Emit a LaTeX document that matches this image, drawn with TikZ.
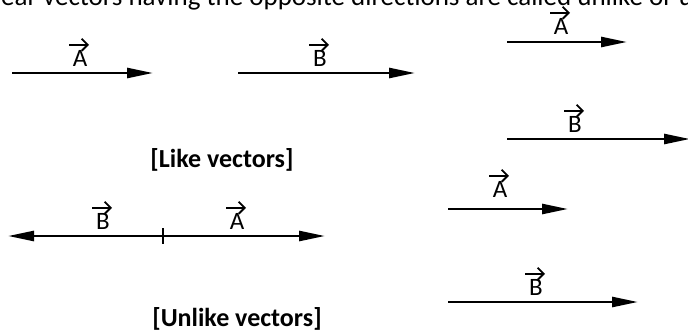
\documentclass[tikz,border=0pt]{standalone}
\usepackage{fontspec}
\setmainfont{Carlito}
\usetikzlibrary{arrows.meta}

\begin{document}
\begin{tikzpicture}[
    x=1pt, y=-1pt,
    vec/.style={line width=2.6pt, -{Triangle[length=26pt,width=10pt]}},
    vsign/.style={line width=1.9pt, -{Straight Barb[length=6pt,width=12pt]}},
    vlbl/.style={font=\fontsize{25}{30}\selectfont, inner sep=0pt, anchor=base,
      append after command={([xshift=-11pt,yshift=5pt]\tikzlastnode.north)
        edge[vsign] ([xshift=9pt,yshift=5pt]\tikzlastnode.north)}},
    capt/.style={font=\fontsize{26}{30}\selectfont\bfseries, anchor=base, inner sep=0pt},
  ]
    \useasboundingbox (0,0) rectangle (688,335);

    % ===== running text, cut by the top edge =====
    \node[font=\fontsize{27}{32}\selectfont, anchor=base west, inner sep=0pt]
      (intro) at (1,5) {ear vectors having the opposite directions are called unlike or u};

    % ===== like vectors =====
    \coordinate (a1s) at (12,73);  \coordinate (a1e) at (153,73);
    \coordinate (b1s) at (238,73); \coordinate (b1e) at (415,73);
    \draw[vec] (a1s) -- (a1e);
    \draw[vec] (b1s) -- (b1e);
    \node[vlbl] (la1) at (80,66) {A};
    \node[vlbl] (lb1) at (320,66) {B};

    \coordinate (a2s) at (507,42);  \coordinate (a2e) at (627,42);
    \coordinate (b2s) at (507,139); \coordinate (b2e) at (690,139);
    \draw[vec] (a2s) -- (a2e);
    \draw[vec] (b2s) -- (b2e);
    \node[vlbl] (la2) at (561,34) {A};
    \node[vlbl] (lb2) at (575,132) {B};

    \node[capt] (like) at (222,167) {[Like vectors]};

    % ===== unlike vectors =====
    \coordinate (o) at (163,236);
    \coordinate (bl) at (8,236); \coordinate (ar) at (325,236);
    \draw[vec] (o) -- (bl);
    \draw[vec] (o) -- (ar);
    \coordinate (tkt) at (163,228); \coordinate (tkb) at (163,244);
    \draw[line width=1.2pt] (tkt) -- (tkb);
    \node[vlbl] (lb3) at (103,229) {B};
    \node[vlbl] (la3) at (237,229) {A};

    \coordinate (a4s) at (448,209); \coordinate (a4e) at (568,209);
    \coordinate (b4s) at (448,302); \coordinate (b4e) at (638,302);
    \draw[vec] (a4s) -- (a4e);
    \draw[vec] (b4s) -- (b4e);
    \node[vlbl] (la4) at (500,197) {A};
    \node[vlbl] (lb4) at (536,295) {B};

    \node[capt] (unlike) at (237,326) {[Unlike vectors]};

\end{tikzpicture}
\end{document}
